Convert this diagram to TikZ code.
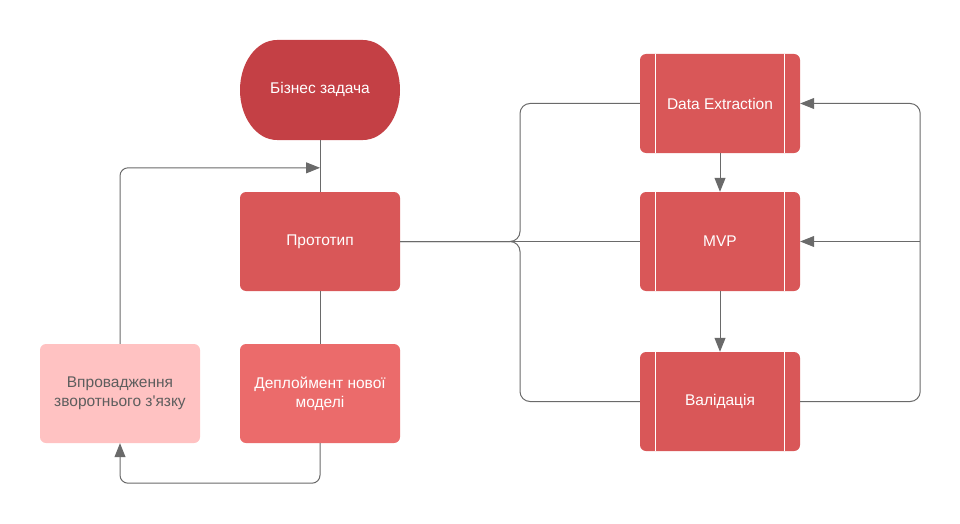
\documentclass[tikz,border=0pt]{standalone}
\usepackage{fontspec}
\newfontfamily\lib{Liberation Sans}
\usetikzlibrary{arrows.meta,calc}
\definecolor{cdark}{HTML}{C44045}
\definecolor{cmid}{HTML}{D95758}
\definecolor{cdep}{HTML}{EB6B6B}
\definecolor{cpink}{HTML}{FFC2C2}
\definecolor{cline}{HTML}{6A6A6A}
\definecolor{ctxt}{HTML}{5E5E5E}
\begin{document}
\begin{tikzpicture}[x=1pt,y=-1pt,
 box/.style={rectangle, rounded corners=6pt, minimum width=160pt, minimum height=99pt, inner sep=0pt, align=center, font=\lib\fontsize{15.5}{19}\selectfont, text=white},
 proc/.style={box, fill=cmid},
 conn/.style={draw=cline, line width=1pt},
 arr/.style={conn, -{Triangle[length=14pt,width=11pt]}},
 sideline/.style={draw=white, line width=1pt},
]
\useasboundingbox (0,0) rectangle (960,524);
% terminator shape
\fill[cdark] (277,40) -- (363,40) arc[start angle=-90,end angle=90,x radius=37,y radius=50]
  -- (277,140) arc[start angle=90,end angle=270,x radius=37,y radius=50] -- cycle;
\node[box, minimum height=100pt] (biz) at (320,89.5) {Бізнес задача};
\node[box, fill=cmid] (proto) at (320,241.5) {Прототип};
\node[box, fill=cpink, text=ctxt] (vpr) at (120,393.5) {Впровадження\\зворотнього з'язку};
\node[box, fill=cdep] (dep) at (320,393.5) {Деплоймент нової\\моделі};
\node[proc] (de) at (720,103.5) {Data Extraction};
\node[proc] (mvp) at (720,241.5) {MVP};
\node[proc] (val) at (720,401.5) {Валідація};
\foreach \n in {de,mvp,val}{
  \draw[sideline] ($(\n.north west)+(16,0)$) -- ($(\n.south west)+(16,0)$);
  \draw[sideline] ($(\n.north east)+(-16,0)$) -- ($(\n.south east)+(-16,0)$);
}
% left side connectors
\draw[conn] (biz.south) -- (proto.north);
\coordinate (fb) at ($(biz.south)!0.54!(proto.north)$);
\draw[arr, rounded corners=8pt] (vpr.north) |- (fb);
\draw[conn] (proto.south) -- (dep.north);
\draw[arr, rounded corners=8pt] (dep.south) -- ++(0,40) -| (vpr.south);
% branch to the right
\coordinate (br) at ($(proto.east)!0.5!(mvp.west)$);
\draw[conn] (proto.east) -- (mvp.west);
\draw[conn, rounded corners=10pt] (proto.east) -| (br |- de.west) -- (de.west);
\draw[conn, rounded corners=10pt] (proto.east) -| (br |- val.west) -- (val.west);
% right column
\draw[arr] (de.south) -- (mvp.north);
\draw[arr] (mvp.south) -- (val.north);
\coordinate (rr) at ($(mvp.east)+(120,0)$);
\draw[arr, rounded corners=10pt] (val.east) -| (rr |- de.east) -- (de.east);
\draw[arr] (rr) -- (mvp.east);
\end{tikzpicture}
\end{document}
